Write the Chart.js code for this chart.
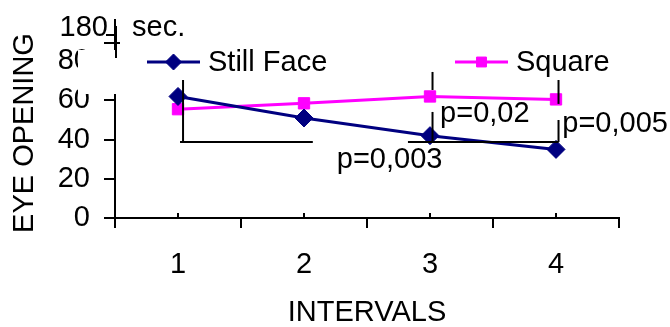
<!DOCTYPE html>
<html>
<head>
<meta charset="utf-8">
<script src="https://cdn.jsdelivr.net/npm/chart.js@4.4.0/dist/chart.umd.min.js"></script>
<style>
    html, body { margin: 0; padding: 0; background: #ffffff; }
</style>
</head>
<body>
<canvas id="chartOlhos" width="670" height="327"></canvas>
<script>
const intervalos = ['1', '2', '3', '4'];
const stillFace = [62, 51, 42, 35];
const square = [55.5, 58.5, 62, 60.5];
const ticksY = [0, 20, 40, 60, 80];
const rotuloTopo = '180';
const unidadeTopo = 'sec.';

// p-values: texto, posição x (índice da categoria), y (valor)
const pTextos = ['p=0,003', 'p=0,02', 'p=0,005'];
const pX = [1.26, 2.08, 3.05];
const pY = [29.6, 53, 48];

// colchetes [x1, y1, x2, y2] em índice de categoria / valor
const colchetes = [
    [0.04, 70.4, 0.04, 38.8],
    [0.016, 38.8, 1.07, 38.8],
    [2.02, 74.5, 2.02, 65.3],
    [2.02, 54.1, 2.02, 38.8],
    [1.825, 38.8, 3.02, 38.8],
    [3.02, 70.4, 3.02, 58.2],
    [3.02, 50, 3.02, 38.8]
];

const fonte = "'Liberation Sans', Arial, sans-serif";
const tamanho = 29;

const extras = {
    id: 'extras',
    beforeDatasetsDraw(chart) {
        // caixa branca da legenda por cima do eixo
        const ctx = chart.ctx;
        ctx.save();
        ctx.fillStyle = '#ffffff';
        ctx.fillRect(78, 50, 545, 44);
        ctx.restore();
    },
    afterDatasetsDraw(chart) {
        const ctx = chart.ctx;
        const x = chart.scales.x;
        const y = chart.scales.y;
        ctx.save();
        ctx.strokeStyle = '#000000';
        ctx.lineWidth = 2;

        // tiques pequenos para cima no centro das categorias
        intervalos.forEach((c, i) => {
            const px = Math.round(x.getPixelForValue(i));
            ctx.beginPath();
            ctx.moveTo(px, y.bottom - 5);
            ctx.lineTo(px, y.bottom);
            ctx.stroke();
        });

        colchetes.forEach(c => {
            ctx.beginPath();
            ctx.moveTo(x.getPixelForValue(c[0]), y.getPixelForValue(c[1]));
            ctx.lineTo(x.getPixelForValue(c[2]), y.getPixelForValue(c[3]));
            ctx.stroke();
        });

        // quebra do eixo y
        const ax = x.left + 1;
        ctx.beginPath();
        ctx.moveTo(ax, y.getPixelForValue(98));
        ctx.lineTo(ax, y.getPixelForValue(81.6));
        ctx.moveTo(ax - 10, y.getPixelForValue(93.4));
        ctx.lineTo(ax, y.getPixelForValue(93.4));
        ctx.moveTo(ax - 12, y.getPixelForValue(89.3));
        ctx.lineTo(ax + 4, y.getPixelForValue(89.3));
        ctx.stroke();

        ctx.fillStyle = '#000000';
        ctx.font = tamanho + 'px ' + fonte;
        ctx.textBaseline = 'middle';
        const yTopo = y.getPixelForValue(97);
        ctx.textAlign = 'right';
        ctx.fillText(rotuloTopo, ax - 8, yTopo);
        ctx.textAlign = 'left';
        ctx.fillText(unidadeTopo, ax + 16, yTopo);

        pTextos.forEach((t, i) => {
            ctx.fillText(t, x.getPixelForValue(pX[i]), y.getPixelForValue(pY[i]));
        });

        // título do eixo y
        ctx.save();
        ctx.translate(25, 133);
        ctx.rotate(-Math.PI / 2);
        ctx.textAlign = 'center';
        ctx.fillText('EYE OPENING', 0, 0);
        ctx.restore();

        // legenda
        const itens = [
            { ds: chart.data.datasets[0], x0: 147, x1: 200 },
            { ds: chart.data.datasets[1], x0: 455, x1: 508 }
        ];
        itens.forEach(it => {
            const ly = 62;
            ctx.strokeStyle = it.ds.borderColor;
            ctx.lineWidth = 3;
            ctx.beginPath();
            ctx.moveTo(it.x0, ly);
            ctx.lineTo(it.x1, ly);
            ctx.stroke();
            ctx.fillStyle = it.ds.backgroundColor;
            ctx.lineWidth = 1;
            Chart.helpers.drawPoint(ctx, {
                pointStyle: it.ds.pointStyle,
                radius: it.ds.pointRadius - 1,
                borderWidth: 1,
                rotation: 0
            }, (it.x0 + it.x1) / 2, ly);
            ctx.fillStyle = '#000000';
            ctx.textAlign = 'left';
            ctx.fillText(it.ds.label, it.x1 + 8, ly + 1);
        });
        ctx.restore();
    }
};

const ctxOlhos = document.getElementById('chartOlhos');
const chartOlhos = new Chart(ctxOlhos, {
    type: 'line',
    data: {
        labels: intervalos,
        datasets: [
            {
                label: 'Still Face',
                data: stillFace,
                borderColor: '#000080',
                backgroundColor: '#000080',
                borderWidth: 3,
                pointStyle: 'rectRot',
                pointRadius: 9,
                pointBorderWidth: 1,
                tension: 0 },
            {
                label: 'Square',
                data: square,
                borderColor: '#ff00ff',
                backgroundColor: '#ff00ff',
                borderWidth: 3,
                pointStyle: 'rect',
                pointRadius: 8,
                pointBorderWidth: 1,
                tension: 0 }
        ]
    },
    options: {
        responsive: false,
        animation: false,
        devicePixelRatio: 1,
        layout: { autoPadding: false, padding: { top: 20, right: 51, bottom: 0, left: 0 } },
        plugins: {
            legend: { display: false },
            tooltip: { enabled: false }
        },
        scales: {
            x: {
                offset: true,
                grid: { offset: true, drawOnChartArea: false, tickLength: 10, color: '#000000', lineWidth: 2 },
                border: { color: '#000000', width: 2 },
                ticks: { color: '#000000', padding: 20, maxRotation: 0, font: { family: fonte, size: tamanho } },
                title: {
                    display: true,
                    text: 'INTERVALS',
                    color: '#000000',
                    padding: 0,
                    font: { family: fonte, size: tamanho, lineHeight: 1 }
                },
                afterFit: s => { s.height = 109; }
            },
            y: {
                min: 0,
                max: 101,
                afterBuildTicks: s => { s.ticks = ticksY.map(v => ({ value: v })); },
                grid: { drawOnChartArea: false, tickLength: 11, color: '#000000', lineWidth: 2 },
                border: { color: '#000000', width: 2 },
                ticks: { color: '#000000', padding: 14, font: { family: fonte, size: tamanho } },
                afterFit: s => {
                    s.width = 115;
                    s.paddingTop = 0;
                    s.paddingBottom = 0;
                }
            }
        }
    },
    plugins: [extras]
});
</script>
</body>
</html>
